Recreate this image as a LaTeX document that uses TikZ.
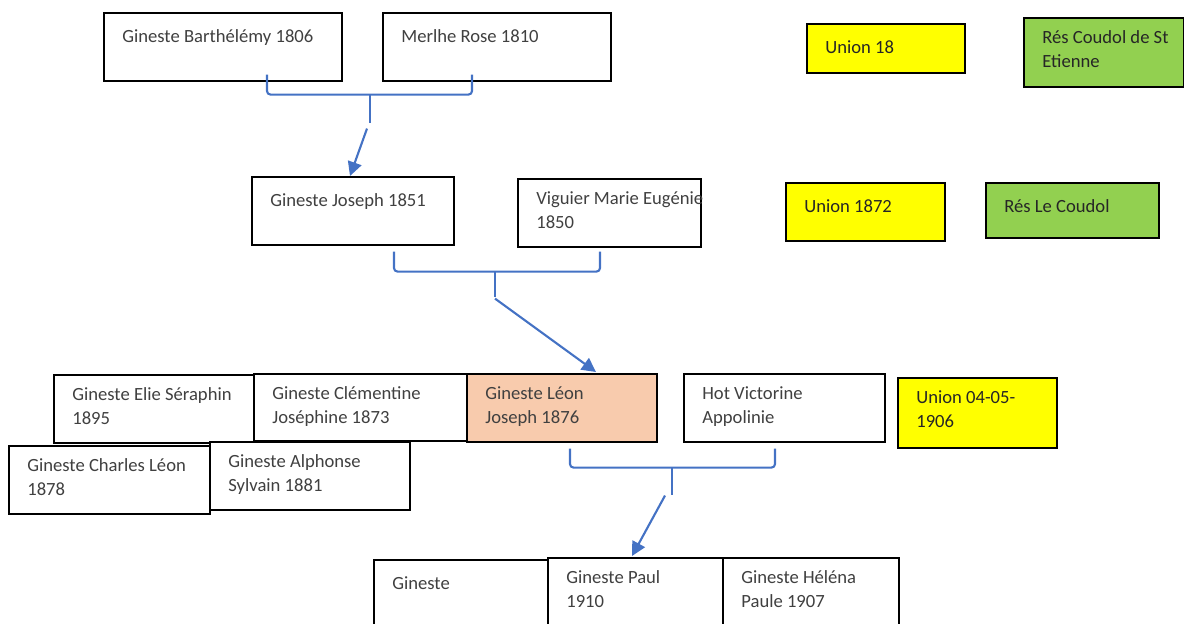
\documentclass[tikz,border=0pt]{standalone}
\usepackage{fontspec}
\setmainfont{Carlito}
\usetikzlibrary{arrows.meta, calc}

\definecolor{linkblue}{HTML}{4472C4}
\definecolor{unionyellow}{HTML}{FFFF00}
\definecolor{resgreen}{HTML}{92D050}
\definecolor{heirfill}{HTML}{F8CBAD}
\definecolor{txtgrey}{HTML}{404040}

\begin{document}
\begin{tikzpicture}[
                x=0.02cm, y=-0.02cm,
                >=Stealth,
                font=\fontsize{10.6}{13.9}\selectfont,
                person/.style={draw, line width=0.9pt, fill=white, anchor=north west, inner sep=0pt},
                union/.style={person, fill=unionyellow},
                res/.style={person, fill=resgreen},
                heir/.style={person, fill=heirfill},
                boxsize/.style 2 args={minimum width=#1*0.02cm, minimum height=#2*0.02cm},
                lbl/.style={anchor=north west, inner sep=0pt, align=left, text=txtgrey,
                  xshift=0.38cm, yshift=-0.26cm, execute at begin node=\strut},
                dark/.style={lbl, text=black!85},
                brace/.style={linkblue, line width=1.2pt, rounded corners=2pt},
                link/.style={linkblue, line width=1.2pt, -{Triangle[length=8pt, width=8pt]}}
            ]
                \useasboundingbox (0,0) rectangle (1184,623);
                % grandparents
                \node[person, boxsize={238}{68}, label={[lbl]north west:Gineste Barthélémy 1806}] (barth) at (103,12) {};
                \node[person, boxsize={228}{68}, label={[lbl]north west:Merlhe Rose 1810}] (merlhe) at (382,12) {};
                \node[union, boxsize={158}{49}, label={[dark]north west:Union 18}] (union18) at (806,23) {};
                \node[res, boxsize={160}{69}, label={[dark]north west:{Rés Coudol de St\\Etienne}}] (resst) at (1023,17) {};
                % parents
                \node[person, boxsize={202}{68}, label={[lbl]north west:Gineste Joseph 1851}] (joseph) at (251,176) {};
                \node[person, boxsize={183}{68}, label={[lbl]north west:{Viguier Marie Eugénie\\1850}}] (viguier) at (517,178) {};
                \node[union, boxsize={159}{58}, label={[dark]north west:Union 1872}] (union1872) at (785,182) {};
                \node[res, boxsize={173}{55}, label={[dark]north west:Rés Le Coudol}] (rescoudol) at (985,182) {};
                % siblings
                \node[person, boxsize={200}{68}, label={[lbl]north west:{Gineste Elie Séraphin\\1895}}] (elie) at (53,374) {};
                \node[person, boxsize={213}{67}, label={[lbl]north west:{Gineste Clémentine\\Joséphine 1873}}] (clementine) at (253,373) {};
                \node[heir, boxsize={190}{68}, label={[lbl]north west:{Gineste Léon\\Joseph 1876}}] (leon) at (466,373) {};
                \node[person, boxsize={201}{68}, label={[lbl]north west:{Hot Victorine\\Appolinie}}] (hot) at (683,373) {};
                \node[union, boxsize={159}{70}, label={[dark]north west:{Union 04-05-\\1906}}] (union1906) at (897,377) {};
                \node[person, boxsize={201}{68}, label={[lbl]north west:{Gineste Charles Léon\\1878}}] (charles) at (8,445) {};
                \node[person, boxsize={200}{68}, label={[lbl]north west:{Gineste Alphonse\\Sylvain 1881}}] (alphonse) at (209,441) {};
                % children
                \node[person, boxsize={175}{80}, label={[lbl]north west:Gineste}] (gineste) at (373,559) {};
                \node[person, boxsize={175}{80}, label={[lbl]north west:{Gineste Paul\\1910}}] (paul) at (547,557) {};
                \node[person, boxsize={176}{80}, label={[lbl]north west:{Gineste Héléna\\Paule 1907}}] (helena) at (722,557) {};
                % braces and arrows
                \coordinate (b1l) at ($(barth.south west)+(164,-7)$);
                \coordinate (b1r) at ($(merlhe.south west)+(90,-7)$);
                \coordinate (b1m) at ($(barth.south west)+(267,13)$);
                \coordinate (b1s) at ($(b1m)+(0,28)$);
                \coordinate (b1a) at ($(b1m)+(-3,34)$);
                \coordinate (b1t) at ($(joseph.north west)+(99,0)$);
                \draw[brace] (b1l) |- (b1m) -| (b1r);
                \draw[brace] (b1m) -- (b1s);
                \draw[link] (b1a) -- (b1t);
                \coordinate (b2l) at ($(joseph.south west)+(143,6)$);
                \coordinate (b2r) at ($(viguier.south west)+(83,4)$);
                \coordinate (b2m) at ($(joseph.south west)+(244,26)$);
                \coordinate (b2s) at ($(b2m)+(0,25)$);
                \coordinate (b2a) at ($(b2m)+(0,27)$);
                \coordinate (b2t) at ($(leon.north west)+(130,-1)$);
                \draw[brace] (b2l) |- (b2m) -| (b2r);
                \draw[brace] (b2m) -- (b2s);
                \draw[link] (b2a) -- (b2t);
                \coordinate (b3l) at ($(leon.south west)+(104,6)$);
                \coordinate (b3r) at ($(hot.south west)+(92,6)$);
                \coordinate (b3m) at ($(leon.south west)+(206,25)$);
                \coordinate (b3s) at ($(b3m)+(0,27)$);
                \coordinate (b3a) at ($(b3m)+(-7,28)$);
                \coordinate (b3t) at ($(paul.north west)+(85,-1)$);
                \draw[brace] (b3l) |- (b3m) -| (b3r);
                \draw[brace] (b3m) -- (b3s);
                \draw[link] (b3a) -- (b3t);
            \end{tikzpicture}
\end{document}
